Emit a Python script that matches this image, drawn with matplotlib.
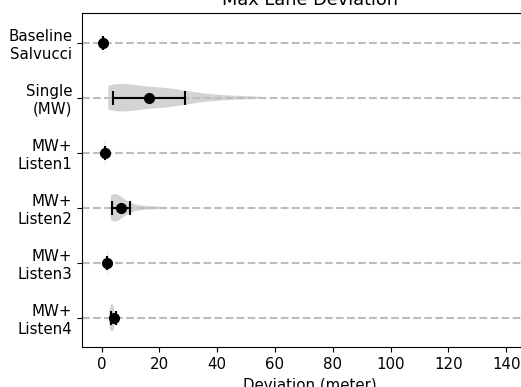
import numpy as np
import matplotlib
matplotlib.use('Agg')
import matplotlib.pyplot as plt

# categories, top to bottom
labels = ['Baseline\nSalvucci', 'Single\n(MW)', 'MW+\nListen1', 'MW+\nListen2', 'MW+\nListen3', 'MW+\nListen4']

# per-condition samples for the violins
samples = [
    [0.5],
    [2.3, 2.4, 2.5, 2.6, 2.7, 2.8, 3.0, 3.3, 3.6, 4.0, 4.5, 5.0, 5.5, 6.0, 7.0, 8.0, 9.0,
     10.0, 11.0, 12.0, 13.0, 14.0, 15.0, 16.0, 17.0, 18.0, 19.0, 20.0, 21.0, 22.0,
     23.0, 24.0, 25.0, 26.0, 27.0, 28.0, 30.0, 32.0, 35.0, 38.0, 42.0, 47.0, 55.0],
    [1.05, 1.1, 1.15, 1.2, 1.25],
    [3.2, 3.25, 3.3, 3.4, 3.5, 3.6, 3.8, 4.0, 4.2, 4.5, 4.8, 5.1, 5.5, 6.0, 6.5, 7.0,
     7.8, 8.6, 9.5, 11.0, 13.0, 16.0, 20.0],
    [1.85, 1.9, 1.95, 2.0, 2.05],
    [2.7, 3.1, 3.4, 3.7, 4.0, 4.3],
]

# means and error bar half widths
means = [0.5, 16.5, 1.15, 6.7, 1.95, 4.2]
errors = [0.0, 12.5, 0.0, 3.2, 0.0, 0.8]


def main():
    fig = plt.figure(figsize=(5.21, 3.87), dpi=100)
    ax = fig.add_axes([0.1574, 0.1034, 0.875, 0.863])

    pos = np.arange(1, len(labels) + 1)

    # violins only where there is a spread to estimate
    vpos = [p for p, s in zip(pos, samples) if len(s) > 1]
    vdat = [s for s in samples if len(s) > 1]
    parts = ax.violinplot(vdat, positions=vpos, orientation='horizontal',
                          widths=0.5, showextrema=False)
    for body in parts['bodies']:
        body.set_facecolor('#cfcfcf')
        body.set_edgecolor('none')
        body.set_alpha(0.9)

    ax.errorbar(means, pos, xerr=errors, fmt='o', color='black', markersize=7,
                elinewidth=1.5, capsize=5, capthick=1.5, zorder=3)

    ax.set_yticks(pos)
    ax.set_yticklabels(labels, fontsize=10.8)
    ax.set_ylim(6.53, 0.46)
    ax.set_xlim(-6.8, 151)
    ax.set_xticks(np.arange(0, 141, 20))
    ax.tick_params(axis='x', labelsize=10.8)
    ax.yaxis.grid(True, linestyle='--', color='#bdbdbd', linewidth=1.5)

    ax.set_title('Max Lane Deviation', fontsize=12.8)
    ax.set_xlabel('Deviation (meter)', fontsize=10.8)

    fig.savefig('out.png', dpi=100)


if __name__ == '__main__':
    main()
